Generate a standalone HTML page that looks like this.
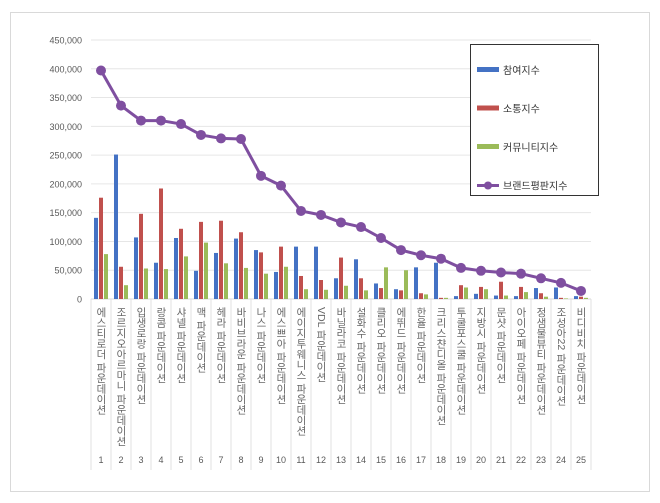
<!DOCTYPE html>
<html><head><meta charset="utf-8"><style>
body{margin:0;background:#fff;font-family:"Liberation Sans","Noto Sans CJK KR",sans-serif;}
#wrap{position:relative;width:660px;height:503px;}
.lab{position:absolute;writing-mode:vertical-rl;font-size:10.5px;color:#666;line-height:12px;top:307px;font-family:"Liberation Sans","Noto Sans CJK KR",sans-serif;letter-spacing:0}
</style></head><body>
<div id="wrap">
<svg id="svg" width="660" height="503" style="position:absolute;left:0;top:0"></svg>
</div>
<script>
const categories=["에스티로더 파운데이션","조르지오아르마니 파운데이션","입생로랑 파운데이션","랑콤 파운데이션","샤넬 파운데이션","맥 파운데이션","헤라 파운데이션","바비브라운 파운데이션","나스 파운데이션","에스쁘아 파운데이션","에이지투웨니스 파운데이션","VDL 파운데이션","바닐라코 파운데이션","설화수 파운데이션","클리오 파운데이션","에뛰드 파운데이션","한율 파운데이션","크리스챤디올 파운데이션","투쿨포스쿨 파운데이션","지방시 파운데이션","문샷 파운데이션","아이오페 파운데이션","정샘물뷰티 파운데이션","조성아22 파운데이션","비디비치 파운데이션"];
const participation=[141000,251000,107000,63000,106000,49000,80000,105000,85000,47000,91000,91000,36000,69000,27000,17000,55000,63000,5000,9000,6000,5000,19000,20000,5000];
const communication=[176000,56000,148000,192000,122000,134000,136000,116000,81000,91000,40000,33000,72000,36000,19000,15000,10000,2000,24000,21000,30000,21000,10000,2000,4000];
const community=[78000,24000,53000,52000,74000,98000,62000,54000,44000,56000,17000,16000,23000,15000,55000,50000,8000,2000,20000,17000,6000,12000,4000,1000,2000];
const brandIndex=[397000,336000,310000,310000,304000,285000,279000,278000,214000,197000,153000,146000,133000,125000,106000,85000,76000,70000,54000,49000,46000,44000,36000,28000,14000];
const yTicks=[0,50000,100000,150000,200000,250000,300000,350000,400000,450000];
const seriesNames=["참여지수","소통지수","커뮤니티지수","브랜드평판지수"];

const NS="http://www.w3.org/2000/svg",svg=document.getElementById('svg'),wrap=document.getElementById('wrap');
const x0=91,step=20,yBase=299,yTop=40,yMax=450000;
const yS=v=>yBase-(v/yMax)*(yBase-yTop);
const xC=i=>x0+step*i+step/2;
function mk(t,a){const e=document.createElementNS(NS,t);for(const k in a)e.setAttribute(k,a[k]);svg.appendChild(e);return e;}
let e=mk('rect',{x:10.5,y:12.5,width:639,height:479,fill:'none',stroke:'#d9d9d9'});

yTicks.forEach(v=>{
 const y=yS(v);
 const l=mk('line',{x1:x0,x2:591,y1:y,y2:y,stroke:v?'#e6e6e6':'#d9d9d9'});
 
 const t=mk('text',{x:82,y:y+3.5,'text-anchor':'end','font-size':9,fill:'#595959','font-family':'Liberation Sans'});
 t.textContent=v.toLocaleString('en-US');
 
});
for(let i=0;i<=categories.length;i++){
 const x=x0+step*i;
 const l=mk('line',{x1:x,x2:x,y1:yBase,y2:470,stroke:'#e0e0e0'});
 
}
const cols=['#4472c4','#c0504d','#9bbb59'];
[participation,communication,community].forEach((arr,s)=>{
 arr.forEach((v,i)=>{
  const r=mk('rect',{x:xC(i)-7+s*5,y:yS(v),width:4,height:yBase-yS(v),fill:cols[s]});
  
  
 });
});
const pl=mk('polyline',{points:brandIndex.map((v,i)=>xC(i)+','+yS(v)).join(' '),fill:'none',stroke:'#7f4fa0','stroke-width':3});

brandIndex.forEach((v,i)=>{
 const c=mk('circle',{cx:xC(i),cy:yS(v),r:5,fill:'#7f4fa0'});
 
});
categories.forEach((c,i)=>{
 const d=document.createElement('div');d.className='lab';d.textContent=c;
 d.style.left=(xC(i)-6)+'px';
 
 
 wrap.appendChild(d);
 const t=mk('text',{x:xC(i),y:463,'text-anchor':'middle','font-size':9,fill:'#595959','font-family':'Liberation Sans'});
 t.textContent=i+1;
 
});
e=mk('rect',{x:470.5,y:44.5,width:128,height:151,fill:'#fff',stroke:'#333'});

seriesNames.forEach((n,s)=>{
 const y=70+s*38.5;
 if(s<3){const r=mk('rect',{x:477,y:y-3,width:22,height:5,fill:cols[s]});
  }
 else{const l=mk('line',{x1:477,x2:499,y1:y,y2:y,stroke:'#7f4fa0','stroke-width':3});
  
  const c=mk('circle',{cx:488,cy:y,r:4,fill:'#7f4fa0'});
  }
 const t=mk('text',{x:503,y:y+4,'font-size':10,fill:'#333','font-family':'Liberation Sans, Noto Sans CJK KR, sans-serif'});
 t.textContent=n;
});
</script>
</body></html>
